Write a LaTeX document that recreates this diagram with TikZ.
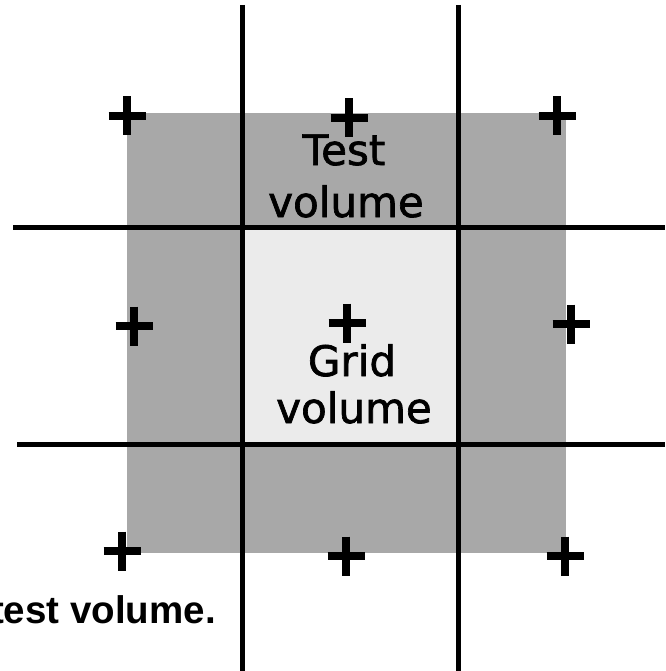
\documentclass[tikz,border=0pt]{standalone}
\usepackage{fontspec}
\setmainfont{DejaVu Sans}
\newfontfamily\lblfont[FakeBold=1.6]{DejaVu Sans}
\newfontfamily\capfont{Liberation Sans}
\tikzset{
  gridline/.style={line width=5pt, black},
  plusmark/.style={line width=7.5pt, black},
  outerfill/.style={fill=black!34, draw=none},
  innerfill/.style={fill=black!8, draw=none},
  lbl/.style={anchor=base, inner sep=0pt, font=\lblfont\fontsize{42}{50}\selectfont},
  pics/plussign/.style={code={
    \draw[plusmark] (-18.5,0) -- (18.5,0);
    \draw[plusmark] (0,-19.5) -- (0,19.5);
  }}
}
\begin{document}
\begin{tikzpicture}[x=1pt,y=-1pt]
\useasboundingbox (0,0) rectangle (665,671);
% shaded volumes
\fill[outerfill] (127,113) rectangle (566,553);
\fill[innerfill] (242,228) rectangle (459,444);
% grid lines
\coordinate (v1t) at (242,5);   \coordinate (v1b) at (242,671);
\coordinate (v2t) at (458,5);   \coordinate (v2b) at (458,671);
\coordinate (h1l) at (13,227);  \coordinate (h1r) at (665,227);
\coordinate (h2l) at (17,444);  \coordinate (h2r) at (665,444);
\draw[gridline] (v1t) -- (v1b);
\draw[gridline] (v2t) -- (v2b);
\draw[gridline] (h1l) -- (h1r);
\draw[gridline] (h2l) -- (h2r);
% grid points
\pic at (127,116) {plussign};
\pic at (349,118) {plussign};
\pic at (557,116) {plussign};
\pic at (134,326) {plussign};
\pic at (347,323) {plussign};
\pic at (571,324) {plussign};
\pic at (122,551) {plussign};
\pic at (346,556) {plussign};
\pic at (565,556) {plussign};
% labels
\node[lbl] (test1) at (344,165) {Test};
\node[lbl] (test2) at (346,217) {volume};
\node[lbl] (grid1) at (352,376) {Grid};
\node[lbl] (grid2) at (354,423) {volume};
\node[anchor=base east, inner sep=0pt, font=\capfont\bfseries\fontsize{38.5}{44}\selectfont] (cap) at (216,623) {test volume.};
\end{tikzpicture}
\end{document}
